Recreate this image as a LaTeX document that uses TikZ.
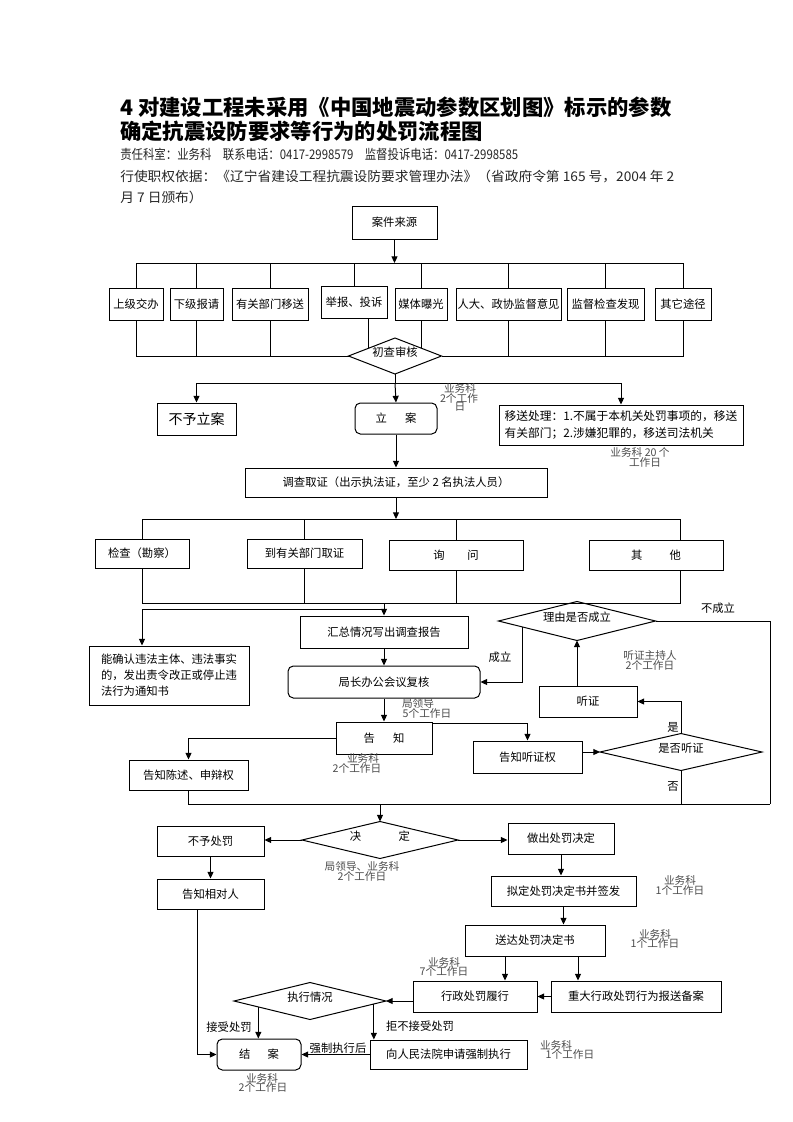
\documentclass[tikz,border=0pt]{standalone}
\usepackage{graphicx}
\usepackage{fontspec}
\setmainfont{Noto Sans CJK SC}
\usetikzlibrary{arrows.meta,shapes.geometric,calc}
\newcommand{\bx}[7][]{%
  \pgfmathsetmacro{\bxX}{(#3+#5)/2}%
  \pgfmathsetmacro{\bxY}{(#4+#6)/2}%
  \pgfmathsetmacro{\bxW}{(#5-#3)*0.75}%
  \pgfmathsetmacro{\bxH}{(#6-#4)*0.75}%
  \node[box,minimum width=\bxW pt,minimum height=\bxH pt,#1] (#2) at (\bxX,\bxY) {#7};}
\newcommand{\dm}[6]{%
  \pgfmathsetmacro{\bxW}{#4*0.75}%
  \pgfmathsetmacro{\bxH}{#5*0.75}%
  \node[dia,minimum width=\bxW pt,minimum height=\bxH pt] (#1) at (#2,#3) {\smash{\makebox[0pt]{#6}}};}
\begin{document}
\begin{tikzpicture}[x=0.75pt,y=-0.75pt,
  box/.style={draw, line width=0.75pt, inner sep=1pt, font=\fontsize{8.5}{10}\selectfont},
  dia/.style={draw, diamond, line width=0.75pt, inner sep=0pt, outer sep=0pt, font=\fontsize{8.5}{10}\selectfont},
  ln/.style={line width=0.75pt},
  arr/.style={ln, -{Triangle[length=5pt,width=4.5pt]}},
  lbl/.style={font=\fontsize{8}{9}\selectfont, text=black!70, inner sep=0pt},
  tag/.style={font=\fontsize{8.5}{10}\selectfont, inner sep=0pt},
  hdr/.style={anchor=west, inner sep=0pt, text=black!85, font=\fontsize{10}{12}\selectfont},
  ttl/.style={anchor=west, inner sep=0pt, font=\bfseries\fontsize{16}{18}\selectfont},
]
\useasboundingbox[fill=white] (0,0) rectangle (793,1122);
% header
\node[ttl] (t1) at (120,107) {4 对建设工程未采用《中国地震动参数区划图》标示的参数};
\node[ttl] (t2) at (120,131) {确定抗震设防要求等行为的处罚流程图};
\node[hdr] (h1) at (120,154) {\scalebox{0.855}[1]{责任科室：业务科\quad 联系电话：0417-2998579\quad 监督投诉电话：0417-2998585}};
\node[hdr] (h2) at (120,176) {\scalebox{1.03}[1]{行使职权依据：《辽宁省建设工程抗震设防要求管理办法》（省政府令第 165 号，2004 年 2}};
\node[hdr] (h3) at (120,197) {\scalebox{1.03}[1]{月 7 日颁布）}};
% sources
\bx{src}{352}{206}{437}{239}{案件来源}
\bx{s1}{109}{288}{163}{320}{上级交办}
\bx{s2}{170}{288}{223}{320}{下级报请}
\bx{s3}{232}{288}{308}{320}{有关部门移送}
\bx{s4}{321}{286}{387}{318}{举报、投诉}
\bx{s5}{395}{288}{447}{320}{媒体曝光}
\bx{s6}{456}{288}{561}{320}{人大、政协监督意见}
\bx{s7}{567}{288}{644}{320}{监督检查发现}
\bx{s8}{655}{288}{711}{320}{其它途径}
\dm{chu}{395}{356}{93}{36}{初查审核}
\coordinate (bt) at (395,263);
\draw[arr] (src.south) -- (src.south |- bt);
\draw[ln] (s1.north) -- (s1.north |- bt) -- (s8.north |- bt) -- (s8.north);
\foreach \n in {s2,s3,s4,s5,s6,s7} \draw[ln] (\n.north) -- (\n.north |- bt);
\draw[ln] (s1.south) |- (chu.west);
\draw[ln] (s8.south) |- (chu.east);
\foreach \n in {s2,s3} \draw[ln] (\n.south) -- (\n.south |- chu.west);
\foreach \n in {s6,s7} \draw[ln] (\n.south) -- (\n.south |- chu.east);
\coordinate (c4) at ($(chu.west)!0.43!(chu.north)$);
\coordinate (c5) at ($(chu.north)!0.57!(chu.east)$);
\draw[ln] (c4 |- s4.south) -- (c4);
\draw[ln] (c5 |- s5.south) -- (c5);
% first decision
\bx[font=\fontsize{10.5}{12}\selectfont]{byla}{157}{403}{236}{435}{不予立案}
\bx[rounded corners=4pt]{li}{355}{403}{437}{434}{立\hspace{1.6em}案}
\bx[align=left,font=\fontsize{8.8}{13}\selectfont]{ys}{499}{405}{743}{445}{移送处理：1.不属于本机关处罚事项的，移送\\有关部门；2.涉嫌犯罪的，移送司法机关}
\coordinate (b1) at (395,383);
\draw[ln] (chu.south) -- (b1);
\draw[arr] (b1) -| (byla.north);
\draw[arr] (b1) -- (li.north);
\draw[arr] (b1) -| (ys.north);
% investigation
\bx{dc}{245}{468}{547}{497}{调查取证（出示执法证，至少 2 名执法人员）}
\draw[arr] (li.south) -- (li.south |- dc.north);
\bx{k1}{95}{539}{189}{568}{检查（勘察）}
\bx{k2}{247}{539}{362}{568}{到有关部门取证}
\bx{k3}{389}{540}{523}{570}{询\hspace{2em}问}
\bx{k4}{589}{540}{723}{570}{其\hspace{2.4em}他}
\coordinate (b2) at (395,519);
\coordinate (k4t) at ($(k4.north)+(24,0)$);
\coordinate (k4b) at ($(k4.south)+(24,0)$);
\draw[arr] (dc.south) -- (dc.south |- b2);
\draw[ln] (k1.north) -- (k1.north |- b2) -- (k4t |- b2) -- (k4t);
\foreach \n in {k2,k3} \draw[ln] (\n.north) -- (\n.north |- b2);
\coordinate (b3) at (384,603);
\coordinate (b3b) at (384,609);
\draw[ln] (k1.south) -- (k1.south |- b3) -- (k4b |- b3) -- (k4b);
\foreach \n in {k2,k3} \draw[ln] (\n.south) -- (\n.south |- b3);
\bx{hz}{300}{616}{468}{648}{汇总情况写出调查报告}
\bx[align=left,font=\fontsize{8.5}{12}\selectfont]{nq}{89}{646}{249}{705}{能确认违法主体、违法事实\\的，发出责令改正或停止违\\法行为通知书}
\draw[arr] (hz.north |- b3) -- (hz.north);
\draw[arr] (b3b) -| (k1.south |- nq.north);
\bx[rounded corners=4pt]{jz}{288}{666}{480}{698}{局长办公会议复核}
\draw[arr] (hz) -- (jz);
\bx{gz}{336}{722}{432}{754}{告\hspace{1.6em}知}
\draw[arr] (jz) -- (gz);
\bx{gcs}{129}{760}{248}{790}{告知陈述、申辩权}
\draw[arr] (gz.west) -| (gcs.north);
\bx{gtz}{473}{741}{582}{773}{告知听证权}
\coordinate (gzr) at ($(gz.north east)+(0,2)$);
\draw[arr] (gzr) -| (gtz.north);
\dm{sft}{681}{752}{162}{37}{是否听证}
\draw[arr] (sft.west -| gtz.east) -- (sft.west);
\bx{tz}{539}{686}{637}{717}{听证}
\draw[arr] (sft.north) |- (tz.east);
\dm{ly}{577}{621}{157}{39}{理由是否成立}
\draw[arr] (tz.north -| ly.south) -- (ly.south);
\coordinate (lyp) at ($(ly.west)!0.31!(ly.south)$);
\draw[arr] (lyp) |- (jz.east);
\coordinate (b4) at (770,804);
\draw[ln] (ly.east) -| (b4);
\draw[ln] (sft.south) -- (sft.south |- b4);
\draw[ln] (gcs.south) |- (b4);
% decision
\dm{jd}{380}{840}{156}{37}{决\hspace{3.3em}定}
\draw[arr] (jd.north |- b4) -- (jd.north);
\bx{byc}{157}{826}{264}{856}{不予处罚}
\draw[arr] (jd.west) -- (jd.west -| byc.east);
\bx{gzx}{157}{879}{264}{909}{告知相对人}
\draw[arr] (byc) -- (gzx);
\bx{zc}{508}{823}{614}{854}{做出处罚决定}
\draw[arr] (jd.east) -- (jd.east -| zc.west);
\bx{nd}{491}{876}{636}{906}{拟定处罚决定书并签发}
\draw[arr] (zc) -- (zc.south |- nd.north);
\bx{sd}{465}{925}{605}{956}{送达处罚决定书}
\draw[arr] (nd.south) -- (nd.south |- sd.north);
\bx{xz}{413}{981}{537}{1012}{行政处罚履行}
\bx{zd}{551}{981}{721}{1012}{重大行政处罚行为报送备案}
\coordinate (sdA) at ($(sd.south)+(-30,0)$);
\coordinate (sdB) at ($(sd.south)+(43,0)$);
\draw[arr] (sdA) -- (sdA |- xz.north);
\draw[arr] (sdB) -- (sdB |- zd.north);
\draw[arr] (zd.west) -- (xz.east);
\dm{zx}{310}{1001}{152}{37}{执行情况}
\draw[arr] (zx.east -| xz.west) -- (zx.east);
\bx[rounded corners=4pt]{ja}{217}{1039}{301}{1070}{结\hspace{1.5em}案}
\bx{fy}{370}{1040}{527}{1069}{向人民法院申请强制执行}
\coordinate (zxa) at ($(zx.west)!0.32!(zx.south)$);
\coordinate (zxb) at ($(zx.south)!0.84!(zx.east)$);
\draw[arr] (zxa) -- (zxa |- ja.north);
\draw[arr] (zxb) -- (zxb |- fy.north);
\draw[arr] (fy.west) -- (fy.west -| ja.east);
\coordinate (gzxb) at ($(gzx.south)+(-13,0)$);
\draw[arr] (gzxb) |- (ja.west);
% labels
\node[lbl] (l1a) at (460,388) {业务科};
\node[lbl] (l1b) at (459,398) {2个工作};
\node[lbl] (l1c) at (460,407) {日};
\node[lbl] (l2a) at (640,452) {业务科 20 个};
\node[lbl] (l2b) at (645,462) {工作日};
\node[lbl] (l3a) at (650,655) {听证主持人};
\node[lbl] (l3b) at (650,665) {2个工作日};
\node[tag] (tok) at (500,657) {成立};
\node[tag] (tno) at (718,608) {不成立};
\node[tag] (tyes) at (673,727) {是};
\node[tag] (tnot) at (673,787) {否};
\node[lbl] (l4a) at (418,703) {局领导};
\node[lbl] (l4b) at (427,713) {5个工作日};
\node[lbl] (l5a) at (363,758) {业务科};
\node[lbl] (l5b) at (357,768) {2个工作日};
\node[lbl] (l6a) at (362,866) {局领导、业务科};
\node[lbl] (l6b) at (362,876) {2个工作日};
\node[lbl] (l7a) at (680,880) {业务科};
\node[lbl] (l7b) at (680,890) {1个工作日};
\node[lbl] (l8a) at (655,934) {业务科};
\node[lbl] (l8b) at (655,943) {1个工作日};
\node[lbl] (l9a) at (444,962) {业务科};
\node[lbl] (l9b) at (444,971) {7个工作日};
\node[tag] (tacc) at (229,1027) {接受处罚};
\node[tag] (trej) at (420,1026) {拒不接受处罚};
\node[tag] (tqz) at (338,1048) {强制执行后};
\node[lbl] (l10a) at (556,1045) {业务科};
\node[lbl] (l10b) at (570,1054) {1个工作日};
\node[lbl] (l11a) at (262,1078) {业务科};
\node[lbl] (l11b) at (263,1087) {2个工作日};
\end{tikzpicture}
\end{document}
